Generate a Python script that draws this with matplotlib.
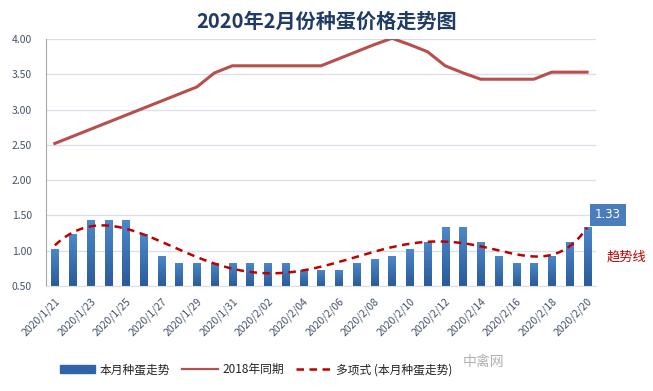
import numpy as np
import matplotlib.pyplot as plt
from matplotlib.colors import LinearSegmentedColormap
from matplotlib.patches import Patch
from matplotlib.lines import Line2D

plt.rcParams['font.family'] = ['Noto Sans CJK SC', 'DejaVu Sans']

dates = ["2020/1/%d" % d for d in range(21, 32)] + ["2020/2/%02d" % d for d in range(1, 21)]
this_month = [1.03, 1.23, 1.43, 1.43, 1.43, 1.23, 0.93, 0.83, 0.83, 0.83, 0.83,
              0.83, 0.83, 0.83, 0.73, 0.73, 0.73, 0.83, 0.88, 0.93, 1.03, 1.13,
              1.33, 1.33, 1.13, 0.93, 0.83, 0.83, 0.93, 1.13, 1.33]
same_2018 = [2.52, 2.62, 2.72, 2.82, 2.92, 3.02, 3.12, 3.22, 3.32, 3.52, 3.62,
             3.62, 3.62, 3.62, 3.62, 3.62, 3.72, 3.82, 3.92, 4.01, 3.92, 3.82,
             3.62, 3.52, 3.43, 3.43, 3.43, 3.43, 3.53, 3.53, 3.53]

x = np.arange(len(dates))
# excel style polynomial trendline (order 6) of this month's prices
coef = np.polyfit(x + 1, this_month, 6)
xs = np.linspace(0, len(dates) - 1, 300)
trend = np.polyval(coef, xs + 1)

fig = plt.figure(figsize=(6.53, 3.91), dpi=100)
ax = fig.add_axes([0.0704, 0.2685, 0.8423, 0.6318])

bars = ax.bar(x, this_month, width=0.4, color='none', zorder=2)
# vertical gradient fill, like the excel bars
grad_cmap = LinearSegmentedColormap.from_list('g', ['#2A5B9A', '#4C88CA'])
grad = np.linspace(0, 1, 64).reshape(-1, 1)
for b in bars:
    bx, by, bw, bh = b.get_x(), b.get_y(), b.get_width(), b.get_height()
    im = ax.imshow(grad, cmap=grad_cmap, origin='lower', aspect='auto',
                   extent=(bx, bx + bw, 0.5, by + bh), zorder=2)
    im.set_clip_path(b)
    b.set_edgecolor('none')

ax.plot(x, same_2018, color='#B5504C', lw=2.2, zorder=3)
ax.plot(xs, trend, color='#C00000', lw=1.8, ls=(0, (3, 2.2)), zorder=4)

ax.set_xlim(-0.5, len(dates) - 0.5)
ax.set_ylim(0.5, 4.0)
ax.set_yticks(np.arange(0.5, 4.01, 0.5))
ax.set_yticklabels(["%.2f" % v for v in np.arange(0.5, 4.01, 0.5)])
ax.set_xticks(x[::2])
ax.set_xticklabels(dates[::2], rotation=45, ha='right', rotation_mode='anchor')
ax.tick_params(axis='both', length=0, labelsize=7.5, colors='#44546A')
ax.tick_params(axis='x', pad=7)
ax.tick_params(axis='y', pad=10)
ax.grid(axis='y', color='#D9DEE8', lw=0.9, zorder=0)
for s in ['top', 'right']:
    ax.spines[s].set_visible(False)
ax.spines['left'].set_color('#A6A6A6')
ax.spines['bottom'].set_color('#D9DEE8')

# data label on last bar
ax.annotate("%.2f" % this_month[-1], (x[-1], this_month[-1]), xytext=(15, 9),
            textcoords='offset points', ha='center', va='center', fontsize=8.5,
            color='white', family='DejaVu Sans',
            bbox=dict(boxstyle='square,pad=0.4', fc='#4A7EBB', ec='none'))
fig.text(0.959, 0.343, '趋势线', color='#C00000', fontsize=9.5, ha='center', va='center')

fig.suptitle('2020年2月份种蛋价格走势图', y=0.972, fontsize=14.5, fontweight='bold',
             color='#1F3B66')

handles = [Patch(color='#2F65A8'),
           Line2D([], [], color='#B5504C', lw=1.6),
           Line2D([], [], color='#C00000', lw=1.8, ls=(0, (3, 2.2)))]
labels = ['本月种蛋走势', '2018年同期', '多项式 (本月种蛋走势)']
fig.legend(handles, labels, loc='center', bbox_to_anchor=(0.392, 0.054), ncol=3,
           frameon=False, fontsize=8.5, handlelength=3.0, handleheight=0.6,
           columnspacing=1.0, handletextpad=0.4, labelcolor='#222222')
fig.text(0.74, 0.074, '中禽网', color='#B0B0B0', fontsize=10, ha='center', va='center')

fig.savefig('out.png', dpi=100)
